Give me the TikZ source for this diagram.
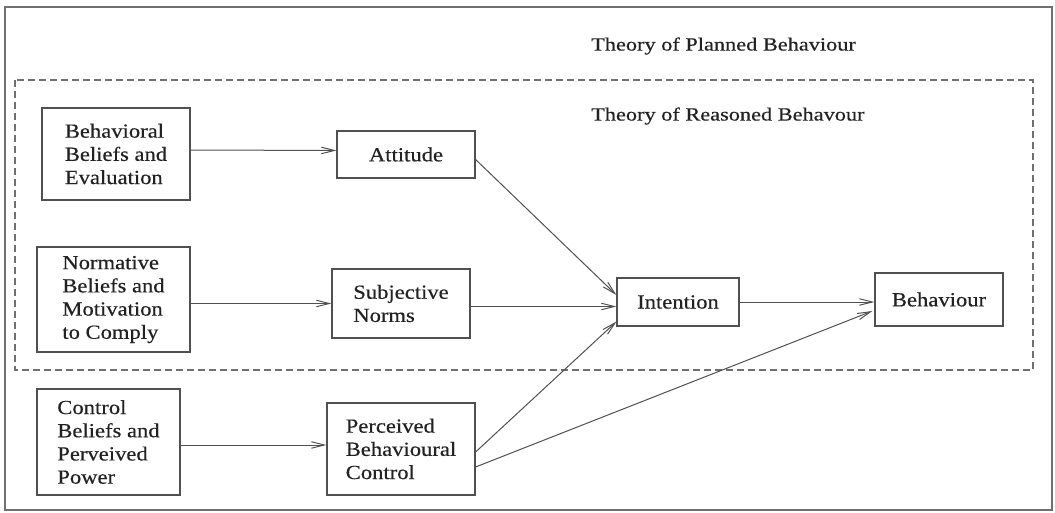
\documentclass[tikz,border=0pt]{standalone}
\usepackage{fontspec}
\setmainfont{Liberation Serif}[FakeStretch=1.20,FakeBold=0.4]
\newfontfamily\boxfont{Liberation Serif}[FakeStretch=1.13,FakeBold=0.4]
\usetikzlibrary{arrows.meta}
\definecolor{ln}{HTML}{505050}
\definecolor{fr}{HTML}{707070}
\definecolor{tx}{HTML}{222222}
\begin{document}
\begin{tikzpicture}[x=1pt,y=-1pt,
  box/.style={draw=ln, line width=1.2pt, text=tx, align=left, inner sep=0pt,
    font=\boxfont\fontsize{20}{23.2}\selectfont},
  arr/.style={draw=ln, line width=1pt, -{Straight Barb[length=13pt,width=6.5pt]}},
  ttl/.style={text=tx, font=\fontsize{18.6}{22}\selectfont, anchor=west, inner sep=0pt}]
\useasboundingbox (0,0) rectangle (1055,513);
\draw[fr, line width=1.4pt] (5,7) rectangle (1052,510);
\draw[fr, line width=1.2pt, dash pattern=on 7pt off 4pt] (15,80) rectangle (1033,370);

\node[ttl] (tpb) at (591,46) {Theory of Planned Behaviour};
\node[ttl] (trb) at (591,116) {Theory of Reasoned Behavour};

\node[box, minimum width=148, minimum height=92] (b1) at (116,154) {Behavioral\\Beliefs and\\Evaluation};
\node[box, minimum width=138, minimum height=47] (att) at (406,154.5) {Attitude};
\node[box, minimum width=153, minimum height=105] (b2) at (113.5,299.5) {Normative\\Beliefs and\\Motivation\\to Comply};
\node[box, minimum width=138, minimum height=69] (sn) at (401,303.5) {Subjective\\Norms};
\node[box, minimum width=143, minimum height=106] (b3) at (108.5,442) {Control\\Beliefs and\\Perveived\\Power};
\node[box, minimum width=148, minimum height=92] (pbc) at (401,449) {Perceived\\Behavioural\\Control};
\node[box, minimum width=122, minimum height=48] (int) at (678,302) {Intention};
\node[box, minimum width=128, minimum height=53] (beh) at (939,299.5) {Behaviour};

\draw[arr] ([yshift=4pt]b1.east) -- ([yshift=4pt]att.west);
\draw[arr] (b2.east |- sn.west) -- (sn.west);
\draw[arr] ([yshift=-3pt]b3.east) -- ([yshift=-3pt]b3.east -| pbc.west);
\draw[arr] ([yshift=-5pt]att.east) -- ([yshift=7pt]int.west);
\draw[arr] ([yshift=-3pt]sn.east) -- ([yshift=-3pt]sn.east -| int.west);
\draw[arr] ([yshift=-3pt]pbc.east) -- ([yshift=5pt]int.south west);
\draw[arr] ([yshift=-18pt]pbc.east) -- ([xshift=-2pt,yshift=-11.5pt]beh.west);
\draw[arr] (int.east) -- (int.east -| beh.west);
\end{tikzpicture}
\end{document}
